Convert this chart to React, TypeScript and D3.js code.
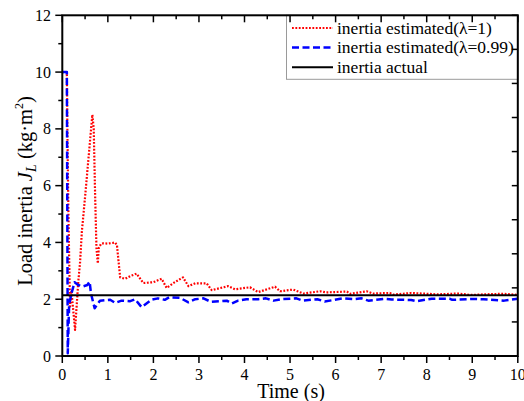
import * as d3 from "d3"

const timeRed = [0, 0.1, 0.11, 0.13, 0.15, 0.17, 0.2, 0.28, 0.35, 0.39, 0.43, 0.5, 0.61, 0.66, 0.69, 0.72, 0.75, 0.78, 0.8, 0.85, 0.9, 1.0, 1.1, 1.16, 1.2, 1.27, 1.38, 1.5, 1.63, 1.78, 2.0, 2.18, 2.29, 2.47, 2.65, 2.77, 2.92, 3.17, 3.28, 3.64, 3.79, 4.12, 4.3, 4.67, 4.78, 5.07, 5.29, 5.66, 5.8, 6.25, 6.32, 6.68, 6.82, 7.19, 7.26, 7.66, 8.25, 8.69, 8.98, 9.4, 9.71, 10]
const valueRed = [10, 10, 8.2, 5.5, 3.5, 1.75, 2.3, 0.92, 2.6, 3.3, 4.4, 5.6, 7.6, 8.5, 8.0, 5.7, 3.8, 3.26, 3.8, 3.95, 3.97, 3.96, 3.98, 4.0, 3.9, 2.77, 2.72, 2.82, 2.9, 2.57, 2.6, 2.72, 2.4, 2.6, 2.77, 2.46, 2.56, 2.56, 2.32, 2.46, 2.35, 2.42, 2.25, 2.44, 2.28, 2.34, 2.2, 2.28, 2.24, 2.27, 2.19, 2.28, 2.2, 2.22, 2.16, 2.22, 2.17, 2.2, 2.15, 2.18, 2.19, 2.15]

const timeBlue = [0, 0.1, 0.12, 0.15, 0.2, 0.27, 0.35, 0.45, 0.55, 0.6, 0.63, 0.71, 0.78, 0.83, 0.97, 1.05, 1.16, 1.3, 1.49, 1.6, 1.74, 1.96, 2.1, 2.25, 2.35, 2.58, 2.77, 2.92, 3.1, 3.26, 3.61, 3.72, 3.86, 4.04, 4.3, 4.47, 4.64, 4.8, 5.14, 5.28, 5.6, 5.76, 5.95, 6.16, 6.4, 6.57, 6.72, 7.08, 7.23, 7.66, 7.77, 8.11, 8.5, 8.56, 9.04, 9.25, 9.7, 10]
const valueBlue = [10, 10, 0.1, 1.8, 2.2, 2.6, 2.5, 2.45, 2.5, 2.62, 2.2, 1.68, 1.85, 1.95, 1.97, 1.98, 1.87, 1.95, 1.93, 2.0, 1.72, 1.98, 2.03, 1.98, 2.07, 2.05, 1.89, 2.0, 2.03, 1.91, 1.95, 1.85, 1.95, 2.0, 2.0, 2.03, 1.95, 2.0, 2.03, 1.95, 2.0, 1.92, 1.97, 2.03, 2.0, 2.03, 1.95, 2.01, 1.99, 1.97, 1.93, 2.02, 2.02, 1.98, 2.01, 2.0, 1.95, 2.02]

const timeActual = [0, 10]
const valueActual = [2.14, 2.14]

const xTickLabels = ["0", "1", "2", "3", "4", "5", "6", "7", "8", "9", "10"]
const yTickLabels = ["0", "2", "4", "6", "8", "10", "12"]

const legendLabels = ["inertia estimated(\u03bb=1)", "inertia estimated(\u03bb=0.99)", "inertia actual"]

const W = 524
const H = 401
const left = 62.3
const right = 517.8
const top = 15.3
const bottom = 356

const font = "'Liberation Serif', 'Times New Roman', serif"

export default function App() {
    const x = d3.scaleLinear().domain([0, 10]).range([left, right])
    const y = d3.scaleLinear().domain([0, 12]).range([bottom, top])

    const toPts = (ts: number[], vs: number[]) => ts.map((t, i) => [t, vs[i]] as [number, number])
    const line = d3.line<[number, number]>().x(d => x(d[0])).y(d => y(d[1]))

    const series = [
        { pts: toPts(timeRed, valueRed), color: "#ff0000", width: 2.2, dash: "1.8 1.6" },
        { pts: toPts(timeBlue, valueBlue), color: "#0000ff", width: 2.5, dash: "7 3.5" },
        { pts: toPts(timeActual, valueActual), color: "#000000", width: 2, dash: undefined },
    ]

    const xMinor = d3.range(0.5, 10, 1)
    const yMinor = d3.range(1, 12, 2)
    const rightTicks = d3.range(0, 12.01, 1.2)

    return (
        <div style={{ position: "absolute", left: 0, top: 0 }}>
            <svg width={W} height={H} style={{ display: "block", background: "#fff" }} fontFamily={font}>
                <defs>
                    <clipPath id="plot">
                        <rect x={left} y={top} width={right - left} height={bottom - top} />
                    </clipPath>
                </defs>

                {/* legend box */}
                <rect x={286.5} y={top} width={right - 286.5} height={64} fill="#fff" stroke="#9a9a9a" strokeWidth={1} />
                {series.map((s, i) => {
                    const ly = 28 + i * 19.6
                    return (
                        <g key={i}>
                            <line x1={292} x2={333} y1={ly} y2={ly} stroke={s.color} strokeWidth={s.width} strokeDasharray={s.dash} />
                            <text x={337} y={ly + 5.5} fontSize={17.5}>{legendLabels[i]}</text>
                        </g>
                    )
                })}

                <g clipPath="url(#plot)">
                    {series.map((s, i) => (
                        <path key={i} d={line(s.pts) || ""} fill="none" stroke={s.color} strokeWidth={s.width}
                            strokeDasharray={s.dash} strokeLinejoin="round" />
                    ))}
                </g>

                {/* frame */}
                <rect x={left} y={top} width={right - left} height={bottom - top} fill="none" stroke="#000" strokeWidth={2} />

                {/* bottom + top ticks */}
                {xTickLabels.map((lab, i) => (
                    <g key={"x" + i}>
                        <line x1={x(i)} x2={x(i)} y1={bottom} y2={bottom + 7} stroke="#000" strokeWidth={1.5} />
                        <line x1={x(i)} x2={x(i)} y1={top} y2={top + 7} stroke="#000" strokeWidth={1.5} />
                        <text x={x(i)} y={380} fontSize={16} textAnchor="middle">{lab}</text>
                    </g>
                ))}
                {xMinor.map(v => (
                    <g key={"xm" + v}>
                        <line x1={x(v)} x2={x(v)} y1={bottom} y2={bottom + 4} stroke="#000" strokeWidth={1.5} />
                        <line x1={x(v)} x2={x(v)} y1={top} y2={top + 4} stroke="#000" strokeWidth={1.5} />
                    </g>
                ))}

                {/* left ticks */}
                {yTickLabels.map((lab, i) => (
                    <g key={"y" + i}>
                        <line x1={left - 7} x2={left} y1={y(i * 2)} y2={y(i * 2)} stroke="#000" strokeWidth={1.5} />
                        <text x={51} y={y(i * 2) + 5.5} fontSize={16} textAnchor="end">{lab}</text>
                    </g>
                ))}
                {yMinor.map(v => (
                    <line key={"ym" + v} x1={left - 4} x2={left} y1={y(v)} y2={y(v)} stroke="#000" strokeWidth={1.5} />
                ))}

                {/* right ticks */}
                {rightTicks.map(v => (
                    <line key={"r" + v} x1={right - 6} x2={right} y1={y(v)} y2={y(v)} stroke="#000" strokeWidth={1.5} />
                ))}

                {/* axis titles */}
                <text x={(left + right) / 2 + 1} y={397.5} fontSize={20} textAnchor="middle">Time (s)</text>
                <text transform="translate(32,191) rotate(-90)" fontSize={20.5} textAnchor="middle">
                    Load inertia <tspan fontStyle="italic">J</tspan>
                    <tspan fontStyle="italic" fontSize={14} dy={4}>L</tspan>
                    <tspan dy={-4}> (kg·m</tspan>
                    <tspan fontSize={12} dy={-9}>2</tspan>
                    <tspan dy={9}>)</tspan>
                </text>
            </svg>
        </div>
    )
}
